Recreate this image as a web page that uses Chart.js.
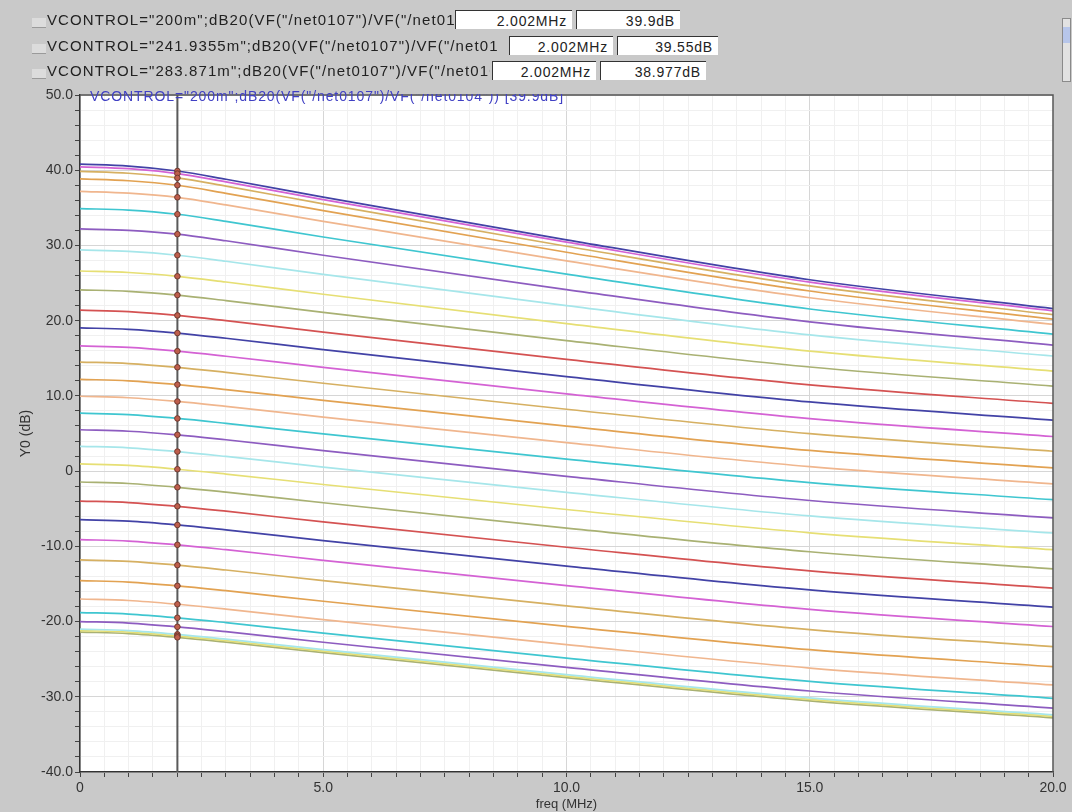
<!DOCTYPE html>
<html>
<head>
<meta charset="utf-8">
<script src="https://cdn.jsdelivr.net/npm/chart.js@4.4.0/dist/chart.umd.min.js"></script>
<style>
  html, body { margin: 0; padding: 0; background: #c9c9c9; }
  #wrap { position: relative; width: 1072px; height: 812px; overflow: hidden; font-family: "Liberation Sans", Arial, sans-serif; }
  #chart { position: absolute; left: 0; top: 0; }
  #panel { position: absolute; left: 0; top: 0; width: 1072px; height: 88px; background: #c9c9c9; }
  #panel-notch { position: absolute; left: 400px; top: 86px; width: 255px; height: 8px; background: #c9c9c9; }
  .row { position: absolute; left: 32px; height: 20px; font-size: 15px; letter-spacing: 1.1px; color: #222; white-space: nowrap; }
  .sw { position: absolute; left: 0; top: 8px; width: 14px; height: 9px; background: #dcdcdc; border-bottom: 1px solid #9a9a9a; }
  .txt { position: absolute; left: 15px; top: 1px; overflow: hidden; }
  .box { position: absolute; top: 0; height: 19px; line-height: 20px; background: #fff; border-top: 1px solid #333; border-left: 1px solid #333; text-align: right; padding-right: 5px; box-sizing: border-box; font-size: 14px; letter-spacing: 0.8px; }
  #inplot { position: absolute; left: 90px; top: 88px; font-size: 14px; letter-spacing: 0.9px; color: #4040c4; white-space: nowrap; }
  #scroll { position: absolute; left: 1062px; top: 18px; width: 9px; height: 64px; background: #e2e2e2; border: 1px solid #8a8a8a; box-sizing: border-box; }
  #thumb { position: absolute; left: 0; top: 8px; width: 7px; height: 16px; background: #b7c6ea; }
</style>
</head>
<body>
<div id="wrap">
  <canvas id="chart" width="1072" height="812"></canvas>
  <div id="inplot">VCONTROL="200m";dB20(VF("/net0107")/VF("/net0104")) [39.9dB]</div>
  <div id="panel-notch"></div>
  <div id="panel">
    <div class="row" style="top:10px"><div class="sw"></div><div class="txt" style="width:408px">VCONTROL="200m";dB20(VF("/net0107")/VF("/net0104"))</div><div class="box" style="left:423px;width:117px">2.002MHz</div><div class="box" style="left:544px;width:104px">39.9dB</div></div>
    <div class="row" style="top:36px"><div class="sw"></div><div class="txt" style="width:452px">VCONTROL="241.9355m";dB20(VF("/net0107")/VF("/net0104"))</div><div class="box" style="left:477px;width:104px">2.002MHz</div><div class="box" style="left:585px;width:101px">39.55dB</div></div>
    <div class="row" style="top:61px"><div class="sw"></div><div class="txt" style="width:443px">VCONTROL="283.871m";dB20(VF("/net0107")/VF("/net0104"))</div><div class="box" style="left:460px;width:104px">2.002MHz</div><div class="box" style="left:568px;width:106px">38.977dB</div></div>
    <div id="scroll"><div id="thumb"></div></div>
  </div>
</div>
<script>
// frequency points (MHz)
const freqMHz = [0, 1, 2, 3, 5, 10, 15, 20];
const markerFreq = 2.002;

// gain curves, dB, one row per VCONTROL step (top to bottom)
const gainCurves = [
  [40.8, 40.55, 39.9, 38.8, 36.42, 30.75, 25.44, 21.6],
  [40.45, 40.2, 39.55, 38.45, 36.08, 30.43, 25.13, 21.3],
  [39.85, 39.6, 38.98, 37.89, 35.53, 29.89, 24.62, 20.8],
  [38.85, 38.6, 38.0, 36.93, 34.62, 29.1, 23.94, 20.2],
  [37.2, 36.95, 36.4, 35.39, 33.19, 27.95, 23.05, 19.5],
  [34.9, 34.7, 34.15, 33.2, 31.12, 26.18, 21.55, 18.2],
  [32.2, 32.0, 31.5, 30.62, 28.7, 24.13, 19.85, 16.75],
  [29.4, 29.2, 28.7, 27.9, 26.15, 22.0, 18.11, 15.3],
  [26.6, 26.4, 25.9, 25.14, 23.51, 19.6, 15.95, 13.3],
  [24.1, 23.9, 23.4, 22.67, 21.1, 17.35, 13.84, 11.3],
  [21.4, 21.2, 20.7, 20.0, 18.48, 14.85, 11.46, 9.0],
  [19.05, 18.85, 18.35, 17.66, 16.15, 12.56, 9.2, 6.77],
  [16.65, 16.45, 15.95, 15.27, 13.79, 10.28, 6.98, 4.6],
  [14.5, 14.3, 13.8, 13.13, 11.68, 8.22, 4.98, 2.64],
  [12.2, 12.0, 11.5, 10.84, 9.4, 5.97, 2.75, 0.43],
  [9.95, 9.75, 9.26, 8.6, 7.18, 3.78, 0.6, -1.7],
  [7.7, 7.5, 7.0, 6.35, 4.95, 1.6, -1.53, -3.8],
  [5.5, 5.3, 4.83, 4.17, 2.73, -0.7, -3.91, -6.23],
  [3.3, 3.1, 2.6, 1.95, 0.54, -2.82, -5.96, -8.23],
  [0.95, 0.75, 0.25, -0.39, -1.78, -5.1, -8.2, -10.45],
  [-1.45, -1.65, -2.15, -2.8, -4.21, -7.58, -10.72, -13.0],
  [-3.98, -4.18, -4.68, -5.33, -6.75, -10.12, -13.27, -15.55],
  [-6.45, -6.65, -7.16, -7.82, -9.23, -12.62, -15.79, -18.08],
  [-9.1, -9.3, -9.8, -10.45, -11.86, -15.23, -18.38, -20.66],
  [-11.8, -12.0, -12.5, -13.15, -14.56, -17.92, -21.06, -23.33],
  [-14.55, -14.75, -15.25, -15.9, -17.3, -20.63, -23.74, -26.0],
  [-17.0, -17.2, -17.7, -18.34, -19.74, -23.07, -26.18, -28.43],
  [-18.8, -19.0, -19.5, -20.14, -21.53, -24.85, -27.95, -30.2],
  [-20.0, -20.2, -20.7, -21.35, -22.75, -26.1, -29.23, -31.5],
  [-21.0, -21.2, -21.7, -22.34, -23.73, -27.05, -30.15, -32.4],
  [-21.2, -21.4, -21.9, -22.54, -23.93, -27.25, -30.35, -32.6],
  [-21.4, -21.6, -22.1, -22.74, -24.13, -27.45, -30.55, -32.8]
];

// virtuoso-like colour cycle
const palette = ["#3fc6d0", "#8d5cc0", "#a6e6ea", "#e6df74", "#a9b173", "#d45252",
                 "#4242a6", "#d462d4", "#d6b062", "#e2a252", "#f0b68e"];

const curveSets = gainCurves.map((vals, i) => ({
  type: "line",
  data: freqMHz.map((f, j) => ({ x: f, y: vals[j] })),
  borderColor: palette[(i + 6) % palette.length],
  borderWidth: 1.7,
  pointRadius: 0,
  cubicInterpolationMode: "monotone",
  order: 3
}));

const markerLine = {
  type: "line",
  data: [{ x: markerFreq, y: 50 }, { x: markerFreq, y: -40 }],
  borderColor: "#5a5a5a",
  borderWidth: 2,
  pointRadius: 0,
  order: 2
};

const markerDots = {
  type: "scatter",
  data: gainCurves.map(v => ({ x: markerFreq, y: v[2] })),
  backgroundColor: "#bf5e4c",
  borderColor: "#6e3a30",
  borderWidth: 1,
  pointRadius: 2.8,
  order: 1
};

const frame = {
  id: "frame",
  beforeDraw(chart) {
    const { ctx, chartArea: a } = chart;
    ctx.save();
    ctx.fillStyle = "#ffffff";
    ctx.fillRect(a.left, a.top, a.right - a.left, a.bottom - a.top);
    ctx.restore();
  },
  afterDraw(chart) {
    const { ctx, chartArea: a } = chart;
    ctx.save();
    ctx.strokeStyle = "#555";
    ctx.lineWidth = 1.5;
    ctx.beginPath();
    ctx.moveTo(a.left, a.top);
    ctx.lineTo(a.right, a.top);
    ctx.lineTo(a.right, a.bottom);
    ctx.stroke();
    ctx.restore();
  }
};

new Chart(document.getElementById("chart"), {
  type: "line",
  data: { datasets: [...curveSets, markerLine, markerDots] },
  plugins: [frame],
  options: {
    responsive: false,
    animation: false,
    layout: { padding: { left: 0, right: 19, top: 95, bottom: 0 } },
    plugins: { legend: { display: false }, tooltip: { enabled: false } },
    scales: {
      x: {
        type: "linear",
        min: 0,
        max: 20,
        afterFit: s => { s.height = 40; },
        border: { color: "#333", width: 1.5 },
        grid: {
          color: c => (c.tick && c.tick.value % 5 === 0 ? "#d6d6d6" : "#f0f0f0"),
          tickColor: "#444",
          tickLength: 5
        },
        ticks: {
          stepSize: 0.5,
          autoSkip: false,
          maxRotation: 0,
          color: "#333",
          font: { size: 14, family: "Liberation Sans" },
          padding: 3,
          callback: v => (v % 5 === 0 ? (v === 0 ? "0" : v.toFixed(1)) : "")
        },
        title: { display: true, text: "freq (MHz)", color: "#333", font: { size: 13, family: "Liberation Sans" }, padding: { top: 0, bottom: 0 } }
      },
      y: {
        min: -40,
        max: 50,
        afterFit: s => { s.width = 80; },
        border: { color: "#333", width: 1.5 },
        grid: {
          color: c => (c.tick && c.tick.value % 10 === 0 ? "#d6d6d6" : "#f0f0f0"),
          tickColor: "#444",
          tickLength: 5
        },
        ticks: {
          stepSize: 2,
          autoSkip: false,
          color: "#333",
          font: { size: 14, family: "Liberation Sans" },
          padding: 2,
          callback: v => (v % 10 === 0 ? (v === 0 ? "0" : v.toFixed(1)) : "")
        },
        title: { display: true, text: "Y0 (dB)", color: "#333", font: { size: 14, family: "Liberation Sans" }, padding: { top: 18, bottom: 0 } }
      }
    }
  }
});
</script>
</body>
</html>
